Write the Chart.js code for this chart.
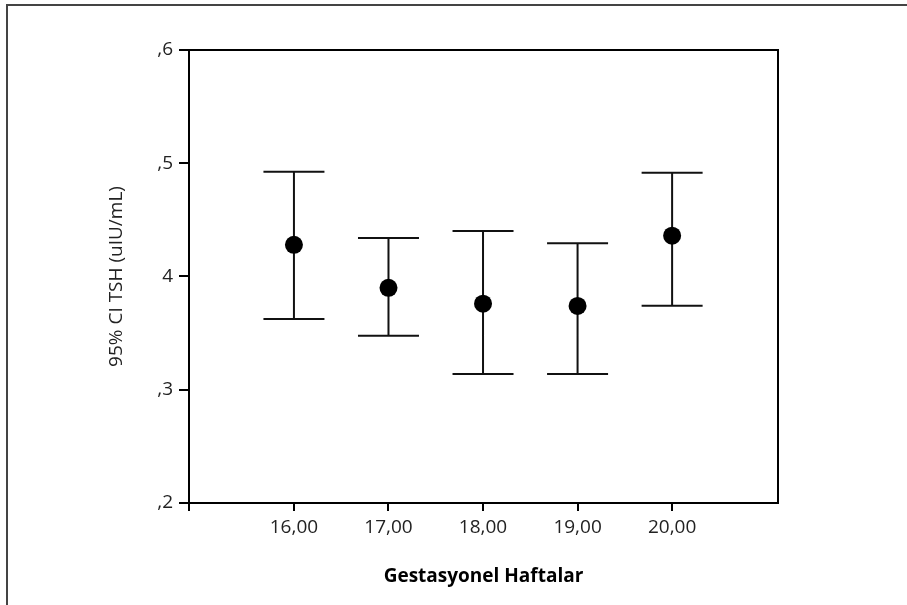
<!DOCTYPE html>
<html>
<head>
<meta charset="utf-8">
<script src="https://cdn.jsdelivr.net/npm/chart.js@4/dist/chart.umd.min.js"></script>
<style>
  html, body { margin: 0; padding: 0; background: #fff; overflow: hidden; }
  #wrap { position: relative; width: 907px; height: 605px; }
</style>
</head>
<body>
<div id="wrap"><canvas id="chart-area" width="907" height="605"></canvas></div>
<script>
// gestational weeks and the 95% CI of TSH per week
var weeks = [16, 17, 18, 19, 20];
var weekLabels = ['16,00', '17,00', '18,00', '19,00', '20,00'];
var means = [0.428, 0.390, 0.376, 0.374, 0.436];
var lower = [0.3625, 0.3477, 0.3139, 0.3139, 0.3742];
var upper = [0.4926, 0.434, 0.4402, 0.4293, 0.4917];
var yTicks = [0.2, 0.3, 0.4, 0.5, 0.6];
var yTickLabels = [',2', ',3', '4', ',5', ',6'];

var xMin = 14.89, xMax = 21.12;

// whisker segments, broken with null between weeks
var whiskers = [];
weeks.forEach(function(w, i) {
  whiskers.push({x: w, y: lower[i]});
  whiskers.push({x: w, y: upper[i]});
  whiskers.push({x: w, y: null});
});
var caps = [];
weeks.forEach(function(w, i) {
  caps.push({x: w, y: lower[i]});
  caps.push({x: w, y: upper[i]});
});
var points = weeks.map(function(w, i) { return {x: w, y: means[i]}; });

var textColor = '#222';

// outer frame + box around plot area
var framePlugin = {
  id: 'frame',
  beforeDraw: function(chart) {
    var ctx = chart.ctx;
    ctx.save();
    ctx.strokeStyle = '#444';
    ctx.lineWidth = 2;
    ctx.beginPath();
    ctx.moveTo(7, 700);
    ctx.lineTo(7, 5);
    ctx.lineTo(1000, 5);
    ctx.stroke();
    ctx.restore();
  },
  afterDraw: function(chart) {
    var a = chart.chartArea, ctx = chart.ctx;
    ctx.save();
    ctx.strokeStyle = '#000';
    ctx.lineWidth = 2;
    ctx.strokeRect(a.left, a.top, a.right - a.left, a.bottom - a.top);
    ctx.restore();
  }
};

var config = {
  type: 'scatter',
  data: {
    datasets: [{
      type: 'line',
      data: whiskers,
      borderColor: '#111',
      borderWidth: 2,
      pointRadius: 0,
      spanGaps: false,
      order: 3
    }, {
      data: caps,
      pointStyle: 'line',
      pointRadius: 30.5,
      pointHoverRadius: 30.5,
      borderColor: '#111',
      borderWidth: 2,
      backgroundColor: '#111',
      order: 2
    }, {
      data: points,
      pointStyle: 'circle',
      pointRadius: 9,
      pointHoverRadius: 9,
      backgroundColor: '#000',
      borderColor: '#000',
      borderWidth: 0,
      order: 1
    }]
  },
  options: {
    responsive: false,
    animation: false,
    events: [],
    layout: { padding: { left: 0, top: 50, right: 129, bottom: 0 } },
    plugins: { legend: { display: false }, tooltip: { enabled: false } },
    scales: {
      x: {
        type: 'linear',
        min: xMin,
        max: xMax,
        afterBuildTicks: function(scale) {
          scale.ticks = [{value: xMin}].concat(weeks.map(function(w) { return {value: w}; }));
        },
        afterFit: function(scale) { scale.height = 102; },
        grid: { drawOnChartArea: false, tickLength: 8, color: '#000', lineWidth: 2 },
        border: { color: '#000', width: 2 },
        ticks: {
          color: textColor,
          font: { family: 'Open Sans', size: 19 },
          padding: 5,
          maxRotation: 0,
          autoSkip: false,
          callback: function(v) {
            var i = weeks.indexOf(v);
            return i < 0 ? '' : weekLabels[i];
          }
        },
        title: {
          display: true,
          text: 'Gestasyonel Haftalar',
          color: '#000',
          font: { family: 'Open Sans', size: 19, weight: 'bold' },
          padding: { top: 0, bottom: 17.5 }
        }
      },
      y: {
        min: 0.2,
        max: 0.6,
        afterBuildTicks: function(scale) {
          scale.ticks = yTicks.map(function(v) { return {value: v}; });
        },
        afterFit: function(scale) { scale.width = 189; },
        grid: { drawOnChartArea: false, tickLength: 10, color: '#000', lineWidth: 2 },
        border: { color: '#000', width: 2 },
        ticks: {
          color: textColor,
          font: { family: 'Open Sans', size: 19 },
          padding: 6,
          callback: function(v) {
            var i = yTicks.indexOf(v);
            return i < 0 ? '' : yTickLabels[i];
          }
        },
        title: {
          display: true,
          text: '95% CI TSH (uIU/mL)',
          color: textColor,
          font: { family: 'Open Sans', size: 19 },
          padding: { top: 105.5, bottom: 0 }
        }
      }
    }
  },
  plugins: [framePlugin]
};

window.myChart = new Chart(document.getElementById('chart-area'), config);
</script>
</body>
</html>
